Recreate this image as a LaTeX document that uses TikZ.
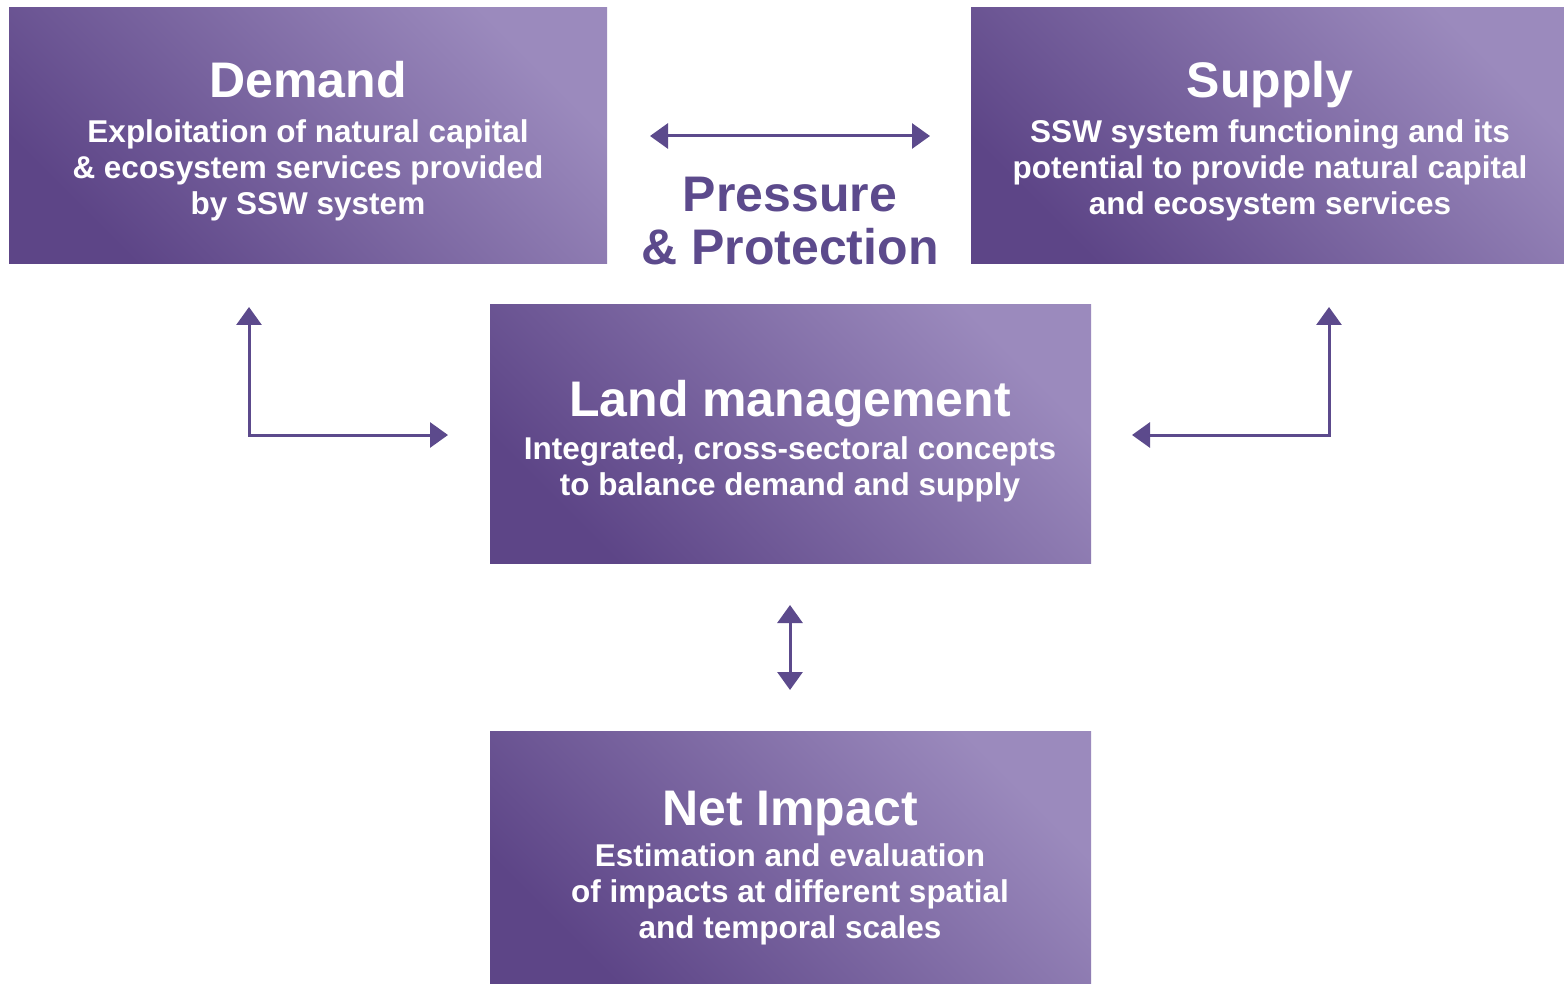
\documentclass[tikz,border=0pt]{standalone}
\usepackage{fontspec}
\setmainfont{Liberation Sans}
\usetikzlibrary{arrows.meta}
\definecolor{pdark}{HTML}{5D4587}
\definecolor{plight}{HTML}{9B8ABD}
\definecolor{pline}{HTML}{5C4A8C}
\begin{document}
\begin{tikzpicture}[x=1pt,y=-1pt,
  box/.style={rectangle, draw=none, inner sep=0pt, bottom color=pdark, top color=plight, shading angle=-45},
  title/.style={text=white, inner sep=0pt, font=\fontsize{50}{56}\selectfont\bfseries, text height=36pt, text depth=0pt},
  body/.style={text=white, inner sep=0pt, align=center, font=\fontsize{31.5}{36}\selectfont\bfseries},
  conn/.style={draw=pline, line width=3pt, {Triangle[width=25pt,length=18pt]}-{Triangle[width=25pt,length=18pt]}}
]
\useasboundingbox (0,0) rectangle (1564,984);
\fill[white] (0,0) rectangle (1564,984);

% boxes
\node[box, minimum width=598pt, minimum height=256pt] (demand) at (308,136) {};
\node[box, minimum width=593pt, minimum height=256pt] (supply) at (1267.5,136) {};
\node[box, minimum width=601pt, minimum height=258pt] (land) at (790.5,434) {};
\node[box, minimum width=601pt, minimum height=253pt] (net) at (790.5,857.5) {};

% texts
\node[title] (demandT) at (308,80) {Demand};
\node[body] (demandB) at (308,170) {Exploitation of natural capital\\ \& ecosystem services provided\\ by SSW system};
\node[title] (supplyT) at (1270,80) {Supply};
\node[body] (supplyB) at (1270,170) {SSW system functioning and its\\ potential to provide natural capital\\ and ecosystem services};
\node[title] (landT) at (790,398) {Land management};
\node[body] (landB) at (790,469) {Integrated, cross-sectoral concepts\\ to balance demand and supply};
\node[title] (netT) at (790,807) {Net Impact};
\node[body] (netB) at (790,894) {Estimation and evaluation\\ of impacts at different spatial\\ and temporal scales};
\node[title, text=pline, align=center, font=\fontsize{50}{53}\selectfont\bfseries] (press) at (790,247) {Pressure\\ \& Protection};

% connector end points
\coordinate (ppL) at (650,136);
\coordinate (ppR) at (930,136);
\coordinate (dUp) at (249,307);
\coordinate (dCorner) at (249,435);
\coordinate (dTip) at (448,435);
\coordinate (sUp) at (1329,307);
\coordinate (sCorner) at (1329,435);
\coordinate (sTip) at (1132,435);
\coordinate (mTop) at (790,605);
\coordinate (mBot) at (790,690);

\draw[conn] (ppL) -- (ppR);
\draw[conn] (dUp) -- (dCorner) -- (dTip);
\draw[conn] (sUp) -- (sCorner) -- (sTip);
\draw[conn] (mTop) -- (mBot);
\end{tikzpicture}
\end{document}
